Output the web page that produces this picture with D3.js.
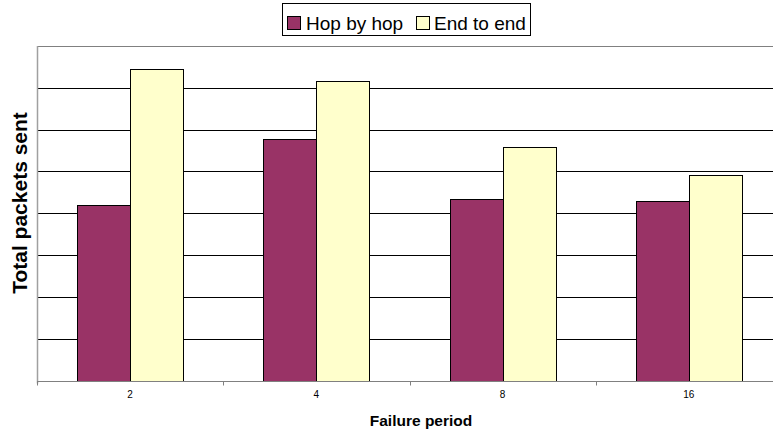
<!DOCTYPE html>
<html>
<head>
<meta charset="utf-8">
<script src="https://cdn.jsdelivr.net/npm/d3@7/dist/d3.min.js"></script>
<style>
html,body{margin:0;padding:0;background:#fff;}
svg{display:block;font-family:"Liberation Sans",Arial,sans-serif;}
</style>
</head>
<body>
<svg id="chart" width="773" height="432"></svg>
<script>
const categories = ["2", "4", "8", "16"];
const seriesNames = ["Hop by hop", "End to end"];
const hopByHop = [4190, 5770, 4330, 4300];
const endToEnd = [7440, 7170, 5580, 4910];
const yTicks = [0, 1000, 2000, 3000, 4000, 5000, 6000, 7000, 8000];
const colors = ["#993366", "#FFFFCC"];

(function () {
const svg = d3.select("#chart");
const pLeft = 37, pRight = 782, pTop = 46, pBottom = 380.5;

const x = d3.scaleBand().domain(categories).range([pLeft, pRight]).padding(0);
const y = d3.scaleLinear().domain([0, 8000]).range([pBottom, pTop]);
const groupW = 106;
const xs = d3.scaleBand().domain(seriesNames).range([0, groupW]).padding(0);

// gridlines
svg.append("g").selectAll("line").data(yTicks.slice(1)).join("line")
  .attr("x1", pLeft).attr("x2", pRight)
  .attr("y1", d => Math.round(y(d)) + 0.5).attr("y2", d => Math.round(y(d)) + 0.5)
  .attr("stroke", d => d === 8000 ? "#808080" : "#000").attr("stroke-width", 1);

// bars
const data = categories.map((c, i) => ({c, vals: [hopByHop[i], endToEnd[i]]}));
const g = svg.append("g");
data.forEach(d => {
  d.vals.forEach((v, j) => {
    const x0 = x(d.c) + x.bandwidth() / 2 - groupW / 2 + xs(seriesNames[j]);
    g.append("rect")
      .attr("x", Math.round(x0) + 0.5)
      .attr("y", Math.round(y(v)) + 0.5)
      .attr("width", Math.round(xs.bandwidth()))
      .attr("height", Math.round(y(0)) - Math.round(y(v)))
      .attr("fill", colors[j]).attr("stroke", "#000").attr("stroke-width", 1);
  });
});

// left axis line
svg.append("line").attr("x1", pLeft + 0.5).attr("x2", pLeft + 0.5)
  .attr("y1", pTop).attr("y2", pBottom + 3)
  .attr("stroke", "#a0a0a0").attr("stroke-width", 1.5);

// bottom axis
const xAxis = d3.axisBottom(x).tickSize(0).tickPadding(9);
const ax = svg.append("g").attr("transform", `translate(0,${Math.round(pBottom) + 0.5})`).call(xAxis);
ax.select(".domain").attr("stroke", "#808080").attr("d", `M${pLeft},0H${pRight}`);
ax.selectAll("text").attr("font-size", 10).attr("fill", "#000")
  .attr("font-family", "'Liberation Sans', Arial, sans-serif");
// boundary ticks
ax.append("g").selectAll("line").data(categories).join("line")
  .attr("x1", d => Math.round(x(d)) + 0.5).attr("x2", d => Math.round(x(d)) + 0.5)
  .attr("y1", 0).attr("y2", 4).attr("stroke", "#808080");

// axis titles
svg.append("text").attr("x", 421).attr("y", 426).attr("text-anchor", "middle")
  .attr("font-weight", "bold").attr("font-size", 15.5).text("Failure period");
svg.append("text").attr("transform", `translate(26.5,203) rotate(-90)`).attr("text-anchor", "middle")
  .attr("font-weight", "bold").attr("font-size", 21).text("Total packets sent");

// legend
const lg = svg.append("g");
lg.append("rect").attr("x", 282.5).attr("y", 3.5).attr("width", 248).attr("height", 32)
  .attr("fill", "#fff").attr("stroke", "#000").attr("stroke-width", 1);
const legX = [287.5, 416.5];
const textX = [306, 434];
seriesNames.forEach((s, j) => {
  lg.append("rect").attr("x", legX[j]).attr("y", 16.5).attr("width", 13).attr("height", 13)
    .attr("fill", colors[j]).attr("stroke", "#000");
  lg.append("text").attr("x", textX[j]).attr("y", 30).attr("font-size", 19).text(s);
});
})();
</script>
</body>
</html>
